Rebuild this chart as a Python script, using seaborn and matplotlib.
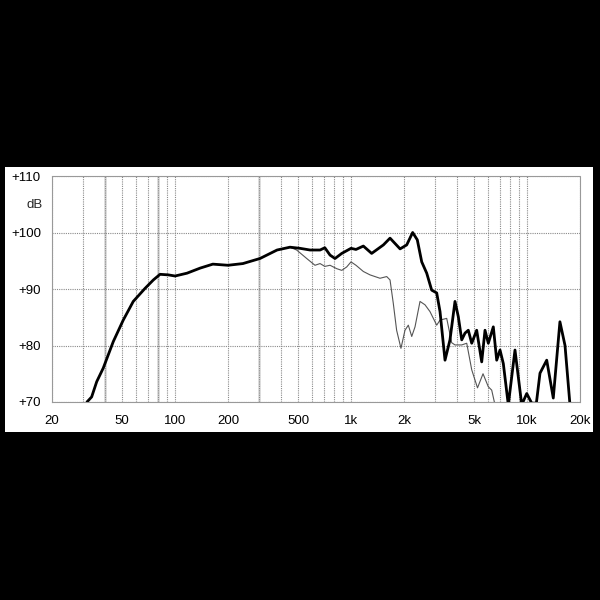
import matplotlib
matplotlib.use("Agg")
import matplotlib.pyplot as plt
from matplotlib.ticker import LogLocator, MultipleLocator, NullFormatter
import seaborn as sns
import pandas as pd

# on-axis response (thick line)
freq_main = [31.6, 33.6, 35.9, 39.1, 44.6, 50.8, 57.9, 67.5, 75.3, 82.2, 91.6, 100,
             117, 139, 164, 200, 243, 304, 380, 450, 513, 585, 667, 710, 760, 811,
             886, 1000, 1067, 1175, 1310, 1527, 1666, 1900, 2072, 2240, 2380, 2522,
             2692, 2873, 3068, 3204, 3420, 3650, 3897, 4070, 4256, 4444, 4638, 4851,
             5176, 5528, 5772, 6026, 6434, 6726, 7024, 7334, 7828, 8544, 9332, 9962,
             10630, 11300, 11850, 12940, 14100, 15380, 16440, 17540]
db_main = [70.0, 70.9, 73.6, 76.0, 80.7, 84.5, 87.8, 90.1, 91.6, 92.6, 92.5, 92.3,
           92.8, 93.7, 94.4, 94.2, 94.5, 95.4, 96.9, 97.4, 97.2, 96.9, 96.9, 97.3, 96.0, 95.4,
           96.3, 97.2, 97.0, 97.6, 96.3, 97.8, 99.0, 97.1, 97.8, 100.0, 98.7, 94.8,
           92.8, 89.8, 89.3, 86.0, 77.4, 81.0, 87.8, 85.1, 81.0, 82.2, 82.7, 80.4,
           82.7, 77.1, 82.7, 80.4, 83.3, 77.4, 79.2, 76.8, 69.5, 79.2, 69.5, 71.5,
           69.8, 69.8, 75.1, 77.4, 70.7, 84.2, 80.0, 69.5]

# off-axis response (thin line)
freq_off = [380, 450, 491, 560, 624, 667, 710, 760, 829, 886, 945, 1000, 1067, 1175,
            1282, 1461, 1595, 1666, 1738, 1816, 1922, 2026, 2116, 2213, 2310, 2466,
            2633, 2810, 3068, 3204, 3497, 3731, 3897, 4256, 4544, 4851, 5232, 5624,
            6026, 6300, 6577]
db_off = [96.9, 97.4, 96.9, 95.4, 94.2, 94.5, 94.0, 94.2, 93.6, 93.3, 93.9, 94.8, 94.2, 93.1,
          92.5, 91.9, 92.2, 91.6, 87.5, 82.7, 79.5, 82.7, 83.6, 81.6, 83.3, 87.8,
          87.2, 86.0, 83.6, 84.5, 84.8, 80.5, 80.1, 80.1, 80.4, 75.7, 72.5, 75.0,
          72.7, 72.1, 69.5]

x_ticks = [20, 50, 100, 200, 500, 1000, 2000, 5000, 10000, 20000]
x_labels = ['20', '50', '100', '200', '500', '1k', '2k', '5k', '10k', '20k']
y_ticks = [70, 80, 90, 100, 110]
y_labels = ['+70', '+80', '+90', '+100', '+110']

main_df = pd.DataFrame({'freq': freq_main, 'db': db_main})
off_df = pd.DataFrame({'freq': freq_off, 'db': db_off})

sns.set_style("white")
plt.rcParams['font.family'] = ['Liberation Sans', 'DejaVu Sans']

fig = plt.figure(figsize=(6, 6), dpi=100, facecolor='black')
# white panel behind the chart
bg = fig.add_axes([5 / 600, 1 - 432 / 600, 588 / 600, 265 / 600], zorder=-1)
bg.set_facecolor('white')
bg.set_xticks([])
bg.set_yticks([])
for s in bg.spines.values():
    s.set_visible(False)

ax = fig.add_axes([52 / 600, 1 - 402 / 600, 528 / 600, 226 / 600], zorder=1)
ax.set_facecolor('white')

ax.set_xscale('log')
ax.set_xlim(20, 20000)
ax.set_ylim(70, 110)

# grid
ax.xaxis.set_minor_locator(LogLocator(base=10, subs=range(2, 10)))
ax.xaxis.set_minor_formatter(NullFormatter())
ax.grid(which='both', axis='x', color='#8a8a8a', linestyle=(0, (1, 1)), linewidth=0.8)
ax.grid(which='major', axis='y', color='#8a8a8a', linestyle=(0, (1, 1)), linewidth=0.8)
for f in [40, 80, 300]:
    ax.axvline(f, color='#d6d6d6', linewidth=1.8, zorder=0.5)

sns.lineplot(data=off_df, x='freq', y='db', ax=ax, color='#555555', linewidth=0.8,
             estimator=None, sort=False, zorder=3)
sns.lineplot(data=main_df, x='freq', y='db', ax=ax, color='black', linewidth=2.0,
             estimator=None, sort=False, zorder=4)

ax.set_xticks(x_ticks)
ax.set_xticklabels(x_labels)
ax.set_yticks(y_ticks)
ax.set_yticklabels(y_labels)
ax.yaxis.set_minor_locator(MultipleLocator(1))
ax.tick_params(axis='x', which='both', length=0, pad=9, labelsize=9.5, colors='black')
ax.tick_params(axis='y', which='major', length=0, pad=8, labelsize=9.5, colors='black')
ax.tick_params(axis='y', which='minor', direction='in', length=3, width=0.6, color='#999999')
ax.text(-0.017, 104.9, 'dB', transform=ax.get_yaxis_transform(), ha='right',
        va='center', fontsize=9.5)
ax.set_xlabel('')
ax.set_ylabel('')

for s in ax.spines.values():
    s.set_color('#999999')
    s.set_linewidth(0.8)
    s.set_linestyle((0, (1, 1)))

fig.savefig('out.png', dpi=100, facecolor='black')
